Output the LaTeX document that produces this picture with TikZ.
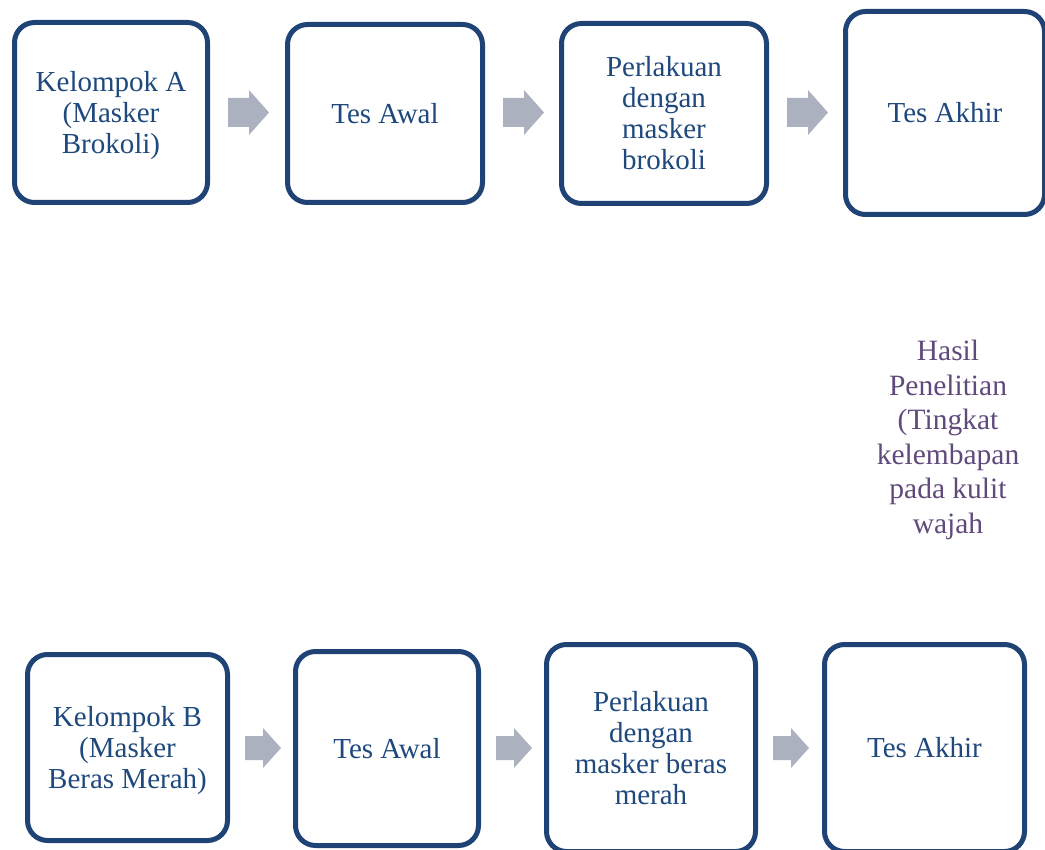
\documentclass[tikz,border=0pt]{standalone}
\usepackage{fontspec}
\setmainfont{Liberation Serif}
\definecolor{boxblue}{RGB}{31,67,116}
\definecolor{txtblue}{RGB}{31,73,125}
\definecolor{arrowgray}{RGB}{171,177,191}
\definecolor{hasilpurple}{RGB}{96,74,123}
\tikzset{
  stepbox/.style={draw=boxblue, line width=5pt, rounded corners=20pt, fill=white,
    text=txtblue, align=center, inner sep=0pt,
    font=\fontsize{29}{31}\selectfont},
  toparrow/.pic={\fill[arrowgray] (0,-14.5) -- (21,-14.5) -- (21,-22.5) -- (41,0) -- (21,22.5) -- (21,14.5) -- (0,14.5) -- cycle;},
  botarrow/.pic={\fill[arrowgray] (0,-12) -- (18,-12) -- (18,-20) -- (36,0) -- (18,20) -- (18,12) -- (0,12) -- cycle;}
}
\begin{document}
\begin{tikzpicture}[x=1pt,y=-1pt]
\useasboundingbox (0,0) rectangle (1045,850);
% top row
\node[stepbox, minimum width=193pt, minimum height=180pt] (a1) at (111,112.5) {\rule{0pt}{27pt}Kelompok A\\(Masker\\Brokoli)};
\node[stepbox, minimum width=195pt, minimum height=178pt] (a2) at (385,113.5) {Tes Awal};
\node[stepbox, minimum width=205pt, minimum height=180pt] (a3) at (664,113.5) {Perlakuan\\dengan\\masker\\brokoli};
\node[stepbox, minimum width=199pt, minimum height=203pt] (a4) at (945,113) {Tes Akhir};
\pic at (228,112.5) {toparrow};
\pic at (503,112.5) {toparrow};
\pic at (787,112.5) {toparrow};
% result text
\node[text=hasilpurple, align=center, inner sep=0pt, font=\fontsize{29.5}{34.5}\selectfont] (hasil) at (948,440) {Hasil\\Penelitian\\(Tingkat\\kelembapan\\pada kulit\\wajah};
% bottom row
\node[stepbox, minimum width=200pt, minimum height=186pt] (b1) at (127.5,747.5) {\rule{0pt}{27pt}Kelompok B\\(Masker\\Beras Merah)};
\node[stepbox, minimum width=183pt, minimum height=194pt] (b2) at (387,748.5) {Tes Awal};
\node[stepbox, minimum width=209pt, minimum height=207pt] (b3) at (651,748) {Perlakuan\\dengan\\masker beras\\merah};
\node[stepbox, minimum width=200pt, minimum height=207pt] (b4) at (924.5,748) {Tes Akhir};
\pic at (245,748) {botarrow};
\pic at (496,748) {botarrow};
\pic at (773,748) {botarrow};
\end{tikzpicture}
\end{document}
